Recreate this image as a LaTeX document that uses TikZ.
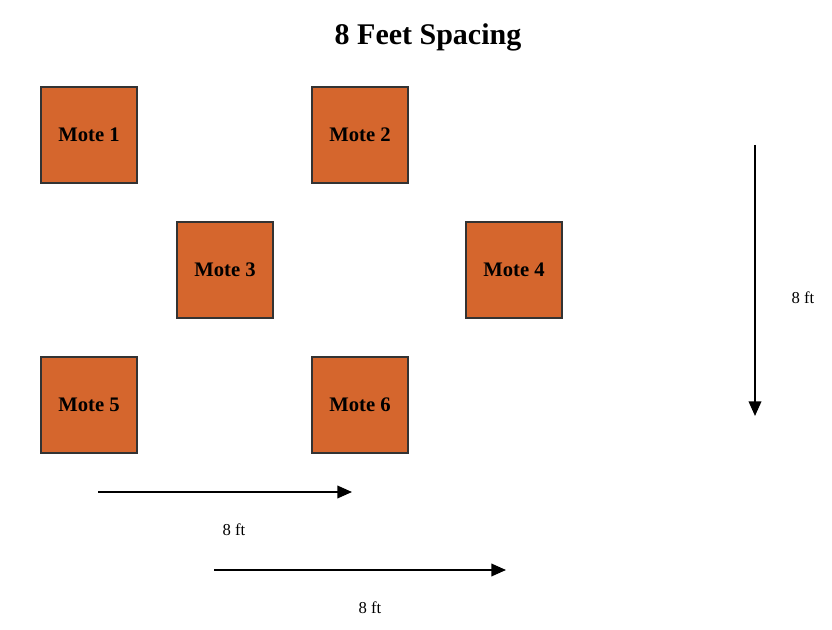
\documentclass[tikz,border=0pt]{standalone}
\usepackage{fontspec}
\setmainfont{Liberation Serif}
\usetikzlibrary{arrows.meta,positioning}
\definecolor{moteorange}{HTML}{D5662D}

\begin{document}
\begin{tikzpicture}[x=.75pt,y=-.75pt,
  mote/.style={draw=black!80,line width=1pt,fill=moteorange,minimum size=72pt,inner sep=0pt,font=\bfseries\fontsize{15.5}{18}\selectfont},
  dist/.style={font=\fontsize{12.5}{14}\selectfont},
  span/.style={-{Triangle[length=11pt,width=9.5pt]},line width=1.2pt}]
\useasboundingbox (0,0) rectangle (832,630);
\node[font=\bfseries\fontsize{22.5}{26}\selectfont] (title) at (428,37){8 Feet Spacing};
\node[mote] (m1) at (89,135){Mote 1};
\node[mote] (m2) at (360,135){Mote 2};
\node[mote] (m3) at (225,270){Mote 3};
\node[mote] (m4) at (514,270){Mote 4};
\node[mote] (m5) at (89,405){Mote 5};
\node[mote] (m6) at (360,405){Mote 6};
\coordinate (v0) at (755,145);\coordinate (v1) at (755,416);
\coordinate (a0) at (98,492);\coordinate (a1) at (352,492);
\coordinate (b0) at (214,570);\coordinate (b1) at (506,570);
\draw[span] (v0)--(v1);\draw[span] (a0)--(a1);\draw[span] (b0)--(b1);
\node[dist] (lv) at (803,298){8 ft};
\node[dist] (la) at (234,530){8 ft};
\node[dist] (lb) at (370,608){8 ft};
\end{tikzpicture}
\end{document}
